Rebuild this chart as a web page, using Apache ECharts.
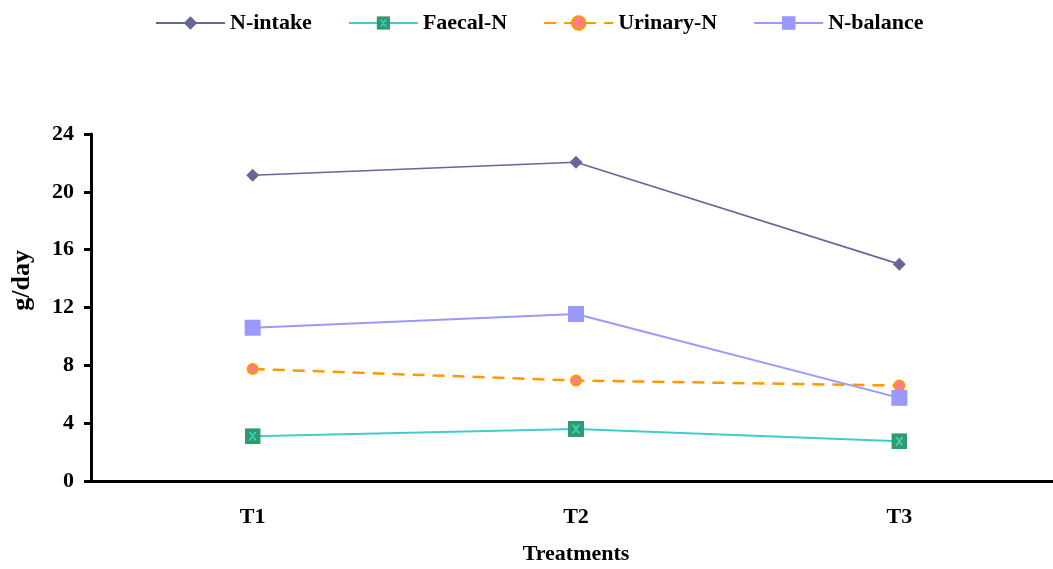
<!DOCTYPE html>
<html>
<head>
<meta charset="utf-8">
<script src="https://cdn.jsdelivr.net/npm/echarts@6/dist/echarts.min.js"></script>
<style>
  html, body { margin: 0; padding: 0; background: #fff; }
  #chart { width: 1053px; height: 569px; }
</style>
</head>
<body>
<div id="chart"></div>
<script>
// Nitrogen balance by treatment (g/day)
const treatments = ['T1', 'T2', 'T3'];
const nIntake   = [21.15, 22.05, 15.0];
const faecalN   = [3.1, 3.6, 2.75];
const urinaryN  = [7.75, 6.95, 6.6];
const nBalance  = [10.6, 11.55, 5.75];
const yTicks = { min: 0, max: 24, interval: 4 };

const FONT = '"Liberation Serif", "Times New Roman", serif';

// green square with a cyan cross, used for the Faecal-N points
const faecalSvg = "<svg xmlns='http://www.w3.org/2000/svg' width='32' height='32'>" +
  "<rect width='32' height='32' fill='#2F9A6C'/>" +
  "<path d='M11 9 L21 23 M21 9 L11 23 M9 9 L13 9 M19 9 L23 9 M9 23 L13 23 M19 23 L23 23' stroke='#40D6CC' stroke-width='3'/>" +
  "</svg>";
const faecalSymbol = 'image://data:image/svg+xml;charset=utf-8,' + encodeURIComponent(faecalSvg);

const chart = echarts.init(document.getElementById('chart'), null, { renderer: 'canvas' });

chart.setOption({
  animation: false,
  backgroundColor: '#ffffff',
  legend: {
    top: 7,
    left: 150,
    itemWidth: 69,
    itemHeight: 17,
    itemGap: 36,
    textStyle: { fontFamily: FONT, fontWeight: 'bold', fontSize: 22, color: '#000' },
    data: ['N-intake', 'Faecal-N', 'Urinary-N', 'N-balance']
  },
  grid: {
    left: 91, top: 134, height: 347, width: 970,
    containLabel: false,
    outerBoundsMode: 'none'
  },
  xAxis: {
    type: 'category',
    data: treatments,
    boundaryGap: true,
    name: 'Treatments',
    nameLocation: 'middle',
    nameGap: 62,
    nameTextStyle: { fontFamily: FONT, fontWeight: 'bold', fontSize: 22, color: '#000' },
    axisLine: { lineStyle: { color: '#000', width: 3 } },
    axisTick: { show: false },
    axisLabel: { margin: 25, fontFamily: FONT, fontWeight: 'bold', fontSize: 22, color: '#000' },
    splitLine: { show: false }
  },
  yAxis: {
    type: 'value',
    min: yTicks.min,
    max: yTicks.max,
    interval: yTicks.interval,
    axisLine: { show: true, lineStyle: { color: '#000', width: 3 } },
    axisTick: { show: true, length: 7, lineStyle: { color: '#000', width: 3 } },
    axisLabel: { margin: 17, fontFamily: FONT, fontWeight: 'bold', fontSize: 22, color: '#000' },
    splitLine: { show: false }
  },
  graphic: [{
    type: 'text',
    left: 9,
    top: 250,
    rotation: Math.PI / 2,
    style: {
      text: 'g/day',
      fontFamily: FONT, fontWeight: 'bold', fontSize: 26, fill: '#000'
    }
  }],
  series: [
    {
      name: 'N-intake', type: 'line', data: nIntake,
      symbol: 'diamond', symbolSize: 13,
      itemStyle: { color: '#666699' },
      lineStyle: { color: '#666699', width: 1.6 }
    },
    {
      name: 'Faecal-N', type: 'line', data: faecalN,
      symbol: faecalSymbol, symbolSize: 16,
      itemStyle: { color: '#2F9A6C' },
      lineStyle: { color: '#40CCCC', width: 2 }
    },
    {
      name: 'Urinary-N', type: 'line', data: urinaryN,
      symbol: 'circle', symbolSize: 10,
      itemStyle: { color: '#FF7F7F', borderColor: '#FF9900', borderWidth: 2 },
      lineStyle: { color: '#FF9900', width: 2.5, type: [12, 8] }
    },
    {
      name: 'N-balance', type: 'line', data: nBalance,
      symbol: 'rect', symbolSize: 16,
      itemStyle: { color: '#9999FF' },
      lineStyle: { color: '#9999FF', width: 2 }
    }
  ]
});
</script>
</body>
</html>
